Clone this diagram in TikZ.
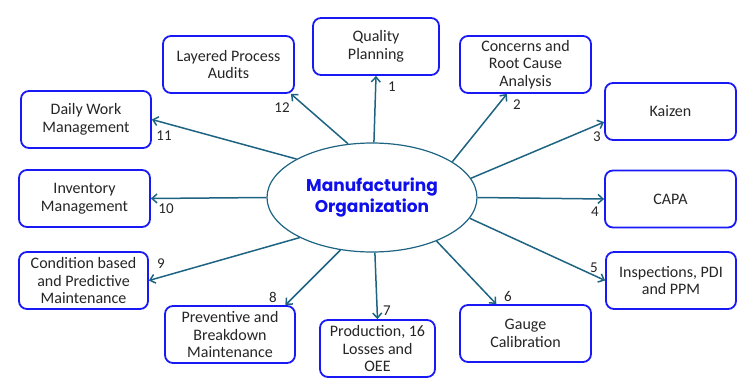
\documentclass[tikz,border=0pt]{standalone}
\usepackage{fontspec}
\setmainfont{Carlito}
\newfontfamily\titlefont{Poppins}
\usetikzlibrary{shapes.geometric,arrows.meta,calc}
\definecolor{boxblue}{RGB}{25,25,245}
\definecolor{arrowteal}{RGB}{30,100,130}
\definecolor{titleblue}{RGB}{15,15,235}
\begin{document}
\begin{tikzpicture}[x=1pt,y=-1pt,
  topic/.style={draw=boxblue, line width=1.8pt, rounded corners=8pt, fill=white, align=center, inner sep=0pt, minimum height=57pt, minimum width=131pt, font=\fontsize{16}{17.5}\selectfont, text=black!85},
  hub/.style={ellipse, draw=arrowteal, line width=1.2pt, fill=white, minimum width=210pt, minimum height=109pt, inner sep=0pt, align=center, font=\titlefont\bfseries\fontsize{17}{21}\selectfont, text=titleblue},
  link/.style={draw=arrowteal, line width=1.5pt, -{Straight Barb[length=5pt,width=9pt]}},
  num/.style={font=\fontsize{15}{16}\selectfont, inner sep=0pt, text=black!85}]
\useasboundingbox (0,0) rectangle (755,386);
\node[hub] (c) at (372,197.5) {Manufacturing\\Organization};
\node[topic, minimum width=126pt] (qp) at (376,46.5) {Quality\\Planning};
\node[topic] (lpa) at (228.5,64.5) {Layered Process\\Audits};
\node[topic] (cr) at (525.5,64.5) {Concerns and\\Root Cause\\Analysis};
\node[topic] (kz) at (670.5,111.5) {Kaizen};
\node[topic, minimum width=130pt] (dwm) at (86,119.5) {Daily Work\\Management};
\node[topic] (inv) at (84.5,198.5) {Inventory\\Management};
\node[topic] (capa) at (670.5,199) {CAPA};
\node[topic, minimum width=129pt] (cond) at (83.5,280.5) {Condition based\\and Predictive\\Maintenance};
\node[topic, minimum width=130pt] (prev) at (230,334.5) {Preventive and\\Breakdown\\Maintenance};
\node[topic, minimum width=115pt] (prod) at (377.5,348.5) {Production, 16\\Losses and\\OEE};
\node[topic] (gc) at (525.5,333.5) {Gauge\\Calibration};
\node[topic, minimum width=130pt] (ins) at (671,280.5) {Inspections, PDI\\and PPM};
\draw[link] (c.88) -- (qp.south);
\draw[link] (c.24.8) -- ($(cr.south west)!0.36!(cr.south east)$);
\draw[link] (c.11) -- ($(kz.north west)!0.68!(kz.south west)$);
\draw[link] (c.0) -- (capa.west);
\draw[link] (c.-12.6) -- (ins.west);
\draw[link] (c.-34.5) -- ($(gc.north west)!0.28!(gc.north east)$);
\draw[link] (c.-87) -- (prod.north);
\draw[link] (c.-121) -- ($(prev.north west)!0.92!(prev.north east)$);
\draw[link] (c.-151.6) -- (cond.east);
\draw[link] (c.180) -- (inv.east);
\draw[link] (c.153.7) -- (dwm.east);
\draw[link] (c.114.8) -- ($(lpa.south west)!0.97!(lpa.south east)$);
\node[num] (n1) at (392,87) {1};
\node[num] (n2) at (517,105) {2};
\node[num] (n3) at (597,136.5) {3};
\node[num] (n4) at (595,212) {4};
\node[num] (n5) at (594,267.5) {5};
\node[num] (n6) at (508,296) {6};
\node[num] (n7) at (387,311) {7};
\node[num] (n8) at (273,297.5) {8};
\node[num] (n9) at (161,264) {9};
\node[num] (n10) at (166,209) {10};
\node[num] (n11) at (164,136) {11};
\node[num] (n12) at (282,107.5) {12};
\end{tikzpicture}
\end{document}
